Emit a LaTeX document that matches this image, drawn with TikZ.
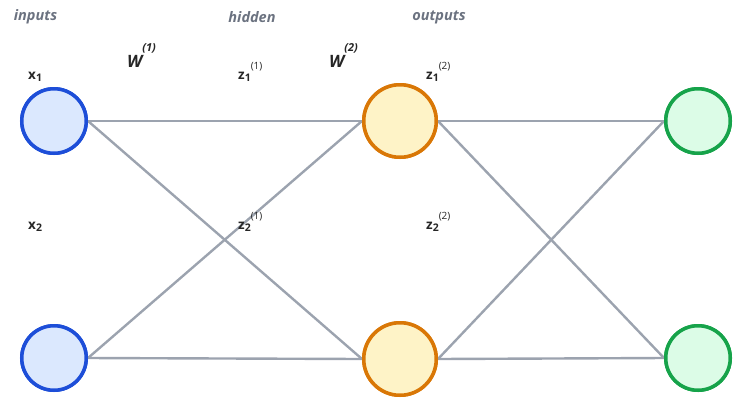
\documentclass[tikz,border=0pt]{standalone}
\usepackage{fontspec}
\setmainfont{Open Sans}
\definecolor{edgegray}{HTML}{9CA3AF}
\definecolor{capgray}{HTML}{6B7280}
\definecolor{inFill}{HTML}{DBE8FE}
\definecolor{inLine}{HTML}{1D4ED8}
\definecolor{hidFill}{HTML}{FEF3C7}
\definecolor{hidLine}{HTML}{D97706}
\definecolor{outFill}{HTML}{DCFCE7}
\definecolor{outLine}{HTML}{16A34A}
\tikzset{
  neuron/.style={circle, line width=3.5pt, inner sep=0pt},
  innode/.style={neuron, minimum size=64.5pt, draw=inLine, fill=inFill},
  hidnode/.style={neuron, minimum size=72.5pt, draw=hidLine, fill=hidFill},
  outnode/.style={neuron, minimum size=64.5pt, draw=outLine, fill=outFill},
  link/.style={draw=edgegray, line width=2.4pt},
  caption/.style={font=\fontsize{14.5}{16}\selectfont\bfseries\itshape, text=capgray, inner sep=0pt},
  varlabel/.style={font=\fontsize{13.5}{15}\selectfont\bfseries, text=black!85, inner sep=0pt},
  weightlabel/.style={font=\fontsize{17}{19}\selectfont\bfseries\itshape, text=black!85, inner sep=0pt}
}
% index below the letter, layer number raised above it
\newcommand{\idx}[1]{\raisebox{-2.5pt}{\fontsize{10.5}{12}\selectfont #1}}
\newcommand{\layersup}[1]{\raisebox{10pt}{\fontsize{10}{12}\selectfont\mdseries(#1)}}
\newcommand{\wsup}[1]{\raisebox{15.5pt}{\fontsize{11}{13}\selectfont(#1)}}
\begin{document}
\begin{tikzpicture}[x=1pt, y=-1pt]
  \useasboundingbox (0,0) rectangle (733,400);

  % layer headings
  \node[caption] (capIn)  at (35.5,17) {inputs};
  \node[caption] (capHid) at (252,17)  {hidden};
  \node[caption] (capOut) at (439,17)  {outputs};

  % neurons (placed first so the links can refer to them)
  \node[innode]  (x1) at (54,121) {};
  \node[innode]  (x2) at (54,358) {};
  \node[hidnode] (h1) at (400,121) {};
  \node[hidnode] (h2) at (400,359) {};
  \node[outnode] (y1) at (698,121) {};
  \node[outnode] (y2) at (698,358) {};

  % fully connected links
  \path[link] (x1.east) -- (h1.west);
  \path[link] (x1.east) -- (h2.west);
  \path[link] (x2.east) -- (h1.west);
  \path[link] (x2.east) -- (h2.west);
  \path[link] (h1.east) -- (y1.west);
  \path[link] (h1.east) -- (y2.west);
  \path[link] (h2.east) -- (y1.west);
  \path[link] (h2.east) -- (y2.west);

  % redraw neurons on top of the links
  \node[innode]  at (x1) {};
  \node[innode]  at (x2) {};
  \node[hidnode] at (h1) {};
  \node[hidnode] at (h2) {};
  \node[outnode] at (y1) {};
  \node[outnode] at (y2) {};

  % variable labels
  \node[varlabel, anchor=base west] (lx1) at (28,79)  {x\idx{1}};
  \node[varlabel, anchor=base west] (lx2) at (28,229) {x\idx{2}};
  \node[varlabel, anchor=base west] (lz11) at (238,79)  {z\idx{1}\layersup{1}};
  \node[varlabel, anchor=base west] (lz21) at (238,229) {z\idx{2}\layersup{1}};
  \node[varlabel, anchor=base west] (lz12) at (426,79)  {z\idx{1}\layersup{2}};
  \node[varlabel, anchor=base west] (lz22) at (426,229) {z\idx{2}\layersup{2}};

  % weight labels
  \node[weightlabel, anchor=base west] (w1) at (127,67) {W\wsup{1}};
  \node[weightlabel, anchor=base west] (w2) at (329,67) {W\wsup{2}};
\end{tikzpicture}
\end{document}
